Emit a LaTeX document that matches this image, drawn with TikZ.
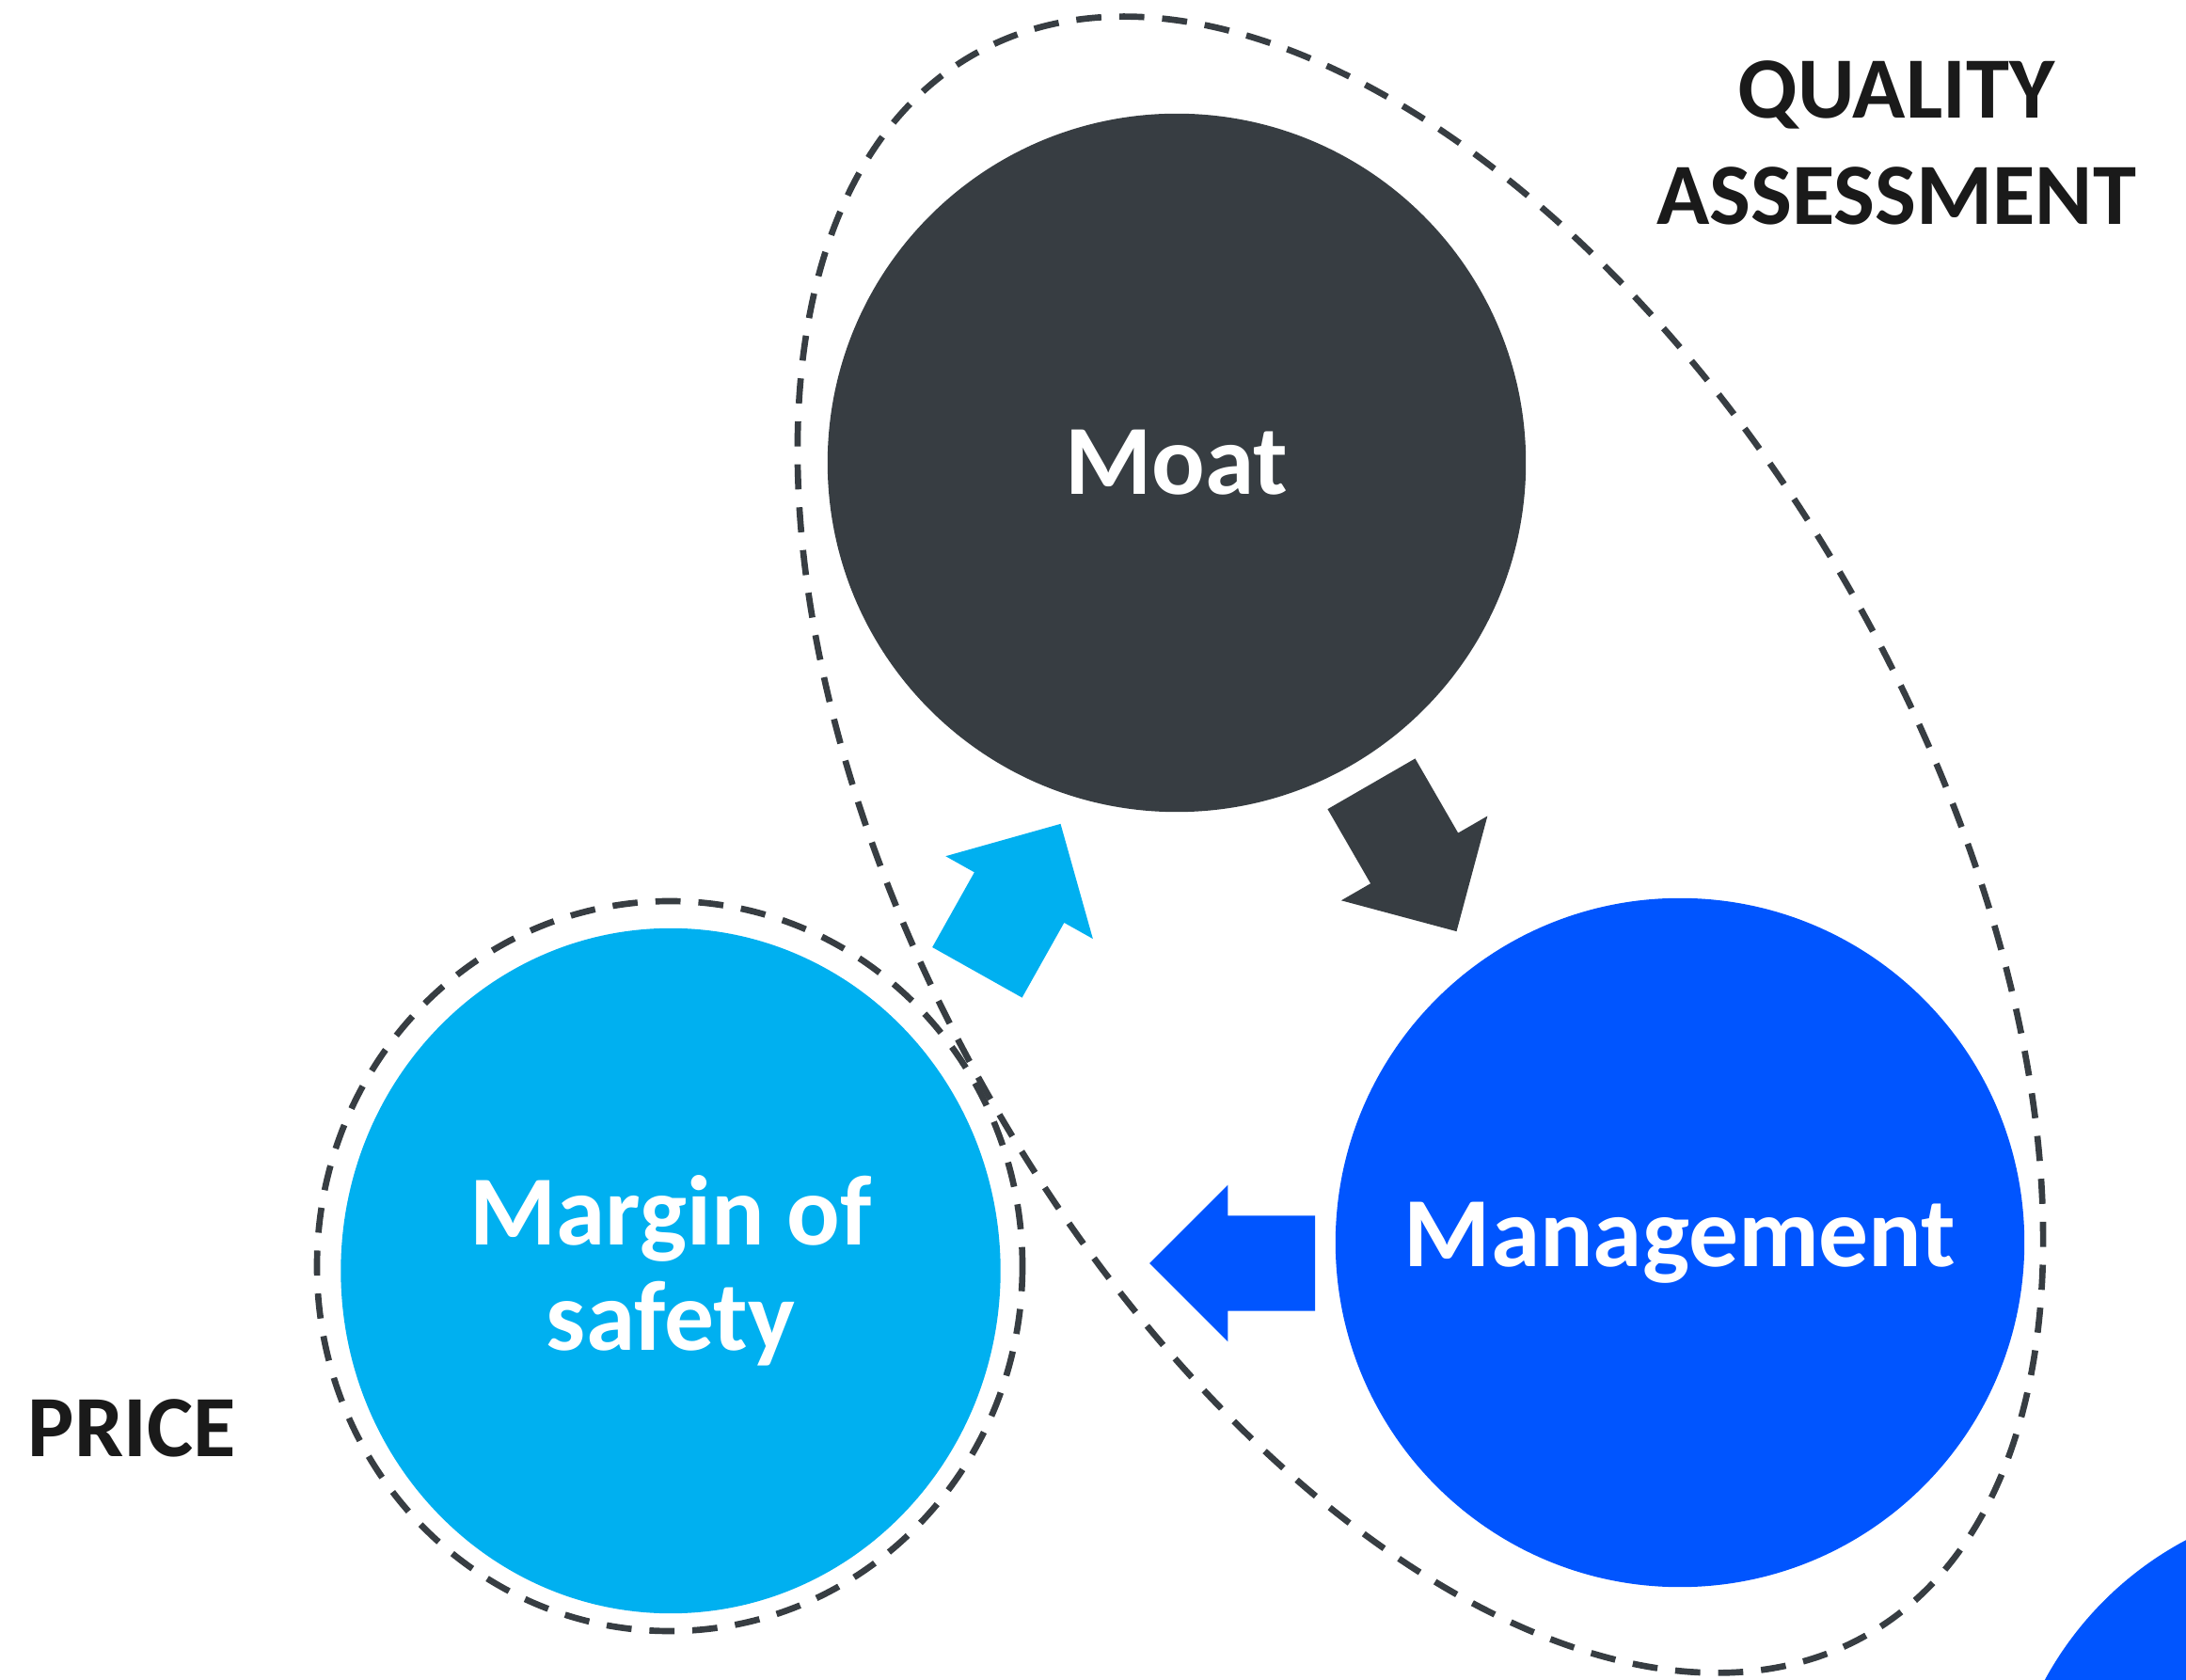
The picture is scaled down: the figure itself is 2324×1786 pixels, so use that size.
\documentclass[tikz,border=0pt]{standalone}
\usepackage{fontspec}
\setmainfont{Carlito}
\usetikzlibrary{positioning, shapes.geometric, shapes.arrows}

\definecolor{moatgray}{HTML}{373D42}
\definecolor{safetyblue}{HTML}{00B0F0}
\definecolor{mgmtblue}{HTML}{0055FF}
\definecolor{labelblack}{HTML}{1A1A1A}

\begin{document}
\begin{tikzpicture}[
  x=0.01cm, y=-0.01cm,
  pillar/.style={circle, inner sep=0pt, text=white, align=center,
    font=\fontsize{30}{32}\selectfont\bfseries},
  ring/.style={draw=moatgray, line width=1.9pt, dash pattern=on 7.6pt off 5.4pt},
  flow/.style={single arrow, inner xsep=0pt, anchor=tip},
  heading/.style={text=labelblack, inner sep=0pt, align=center,
    font=\fontsize{26.4}{32}\selectfont\bfseries}
]
\useasboundingbox (0,0) rectangle (2324,1786);
\clip (0,0) rectangle (2324,1786);

% Dashed groups
\draw[ring, rotate around={-60.6:(1510,898)}] (1510,898) ellipse [x radius=965, y radius=531];
\draw[ring] (712,1346) ellipse [x radius=375, y radius=388];

% Circles
\node[pillar, fill=moatgray, minimum size=7.42cm] (moat) at (1251,492) {Moat};
\node[pillar, fill=mgmtblue, minimum size=7.32cm] (mgmt) at (1786,1321) {Management};
\node[pillar, ellipse, fill=safetyblue, minimum width=7.01cm, minimum height=7.28cm] (safety) at (713,1351) {Margin of\\safety};
\node[pillar, fill=mgmtblue, minimum size=7.3cm] (next) at (2495,1960) {};

% Arrows
\node[flow, fill=safetyblue, minimum height=1.81cm, minimum width=1.78cm, inner ysep=0.54cm,
  single arrow head extend=0.35cm, rotate=60.7] (toMoat) at (1128,875) {};
\node[flow, fill=moatgray, minimum height=1.81cm, minimum width=1.78cm, inner ysep=0.53cm,
  single arrow head extend=0.36cm, rotate=-60] (toMgmt) at (1549,991) {};
\node[flow, fill=mgmtblue, minimum height=1.76cm, minimum width=1.65cm, inner ysep=0.50cm,
  single arrow head extend=0.325cm, rotate=180] (toSafety) at (1221,1343) {};

% Labels
\node[heading, anchor=north] (quality) at (2016,64) {QUALITY\\ASSESSMENT};
\node[heading, anchor=base west] (price) at (29,1548) {PRICE};

\end{tikzpicture}
\end{document}
